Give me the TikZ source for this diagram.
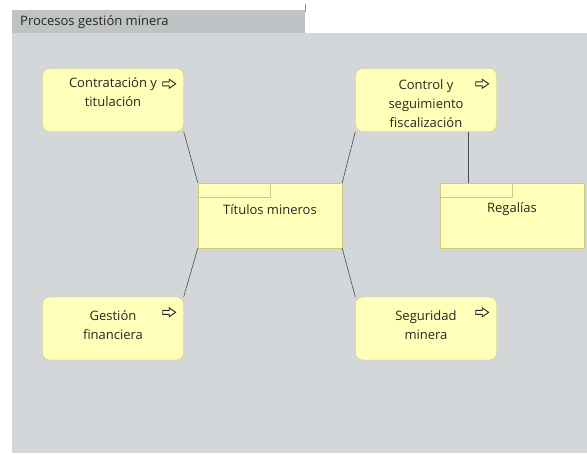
\documentclass[tikz,border=0pt]{standalone}
\usepackage{fontspec}
\setmainfont{Open Sans}
\usetikzlibrary{positioning}
\definecolor{panelgrey}{RGB}{212,215,218}
\definecolor{tabgrey}{RGB}{192,195,198}
\definecolor{boxfill}{RGB}{255,255,185}
\definecolor{boxline}{RGB}{205,200,130}
\definecolor{txt}{RGB}{40,40,30}
\tikzset{
proc/.style={draw=boxline, fill=boxfill, rounded corners=7pt, minimum width=141pt, minimum height=63pt, inner sep=0pt},
func/.style={draw=boxline, fill=boxfill, minimum width=144pt, minimum height=65pt, inner sep=0pt},
lbl/.style={align=center, text=txt, font=\fontsize{13}{19}\selectfont, inner sep=0pt},
link/.style={draw=black!70, line width=0.6pt},
icon/.style={draw=black!85, line width=0.9pt, line join=miter}
}

\begin{document}
\begin{tikzpicture}[x=1pt,y=-1pt]
\useasboundingbox (0,0) rectangle (587,453);
\fill[white] (0,0) rectangle (587,453);
\fill[panelgrey] (12,33) rectangle (587,453);
\fill[tabgrey] (12,10) rectangle (305,33);
\draw[black!45] (305,4) -- (305,12);
\node (panel) at (20,22) [lbl, anchor=west] {Procesos gestión minera};

\node (contratacion) at (113,100) [proc] {};
\node (control) at (426,100) [proc] {};
\node (gestion) at (113,328.5) [proc] {};
\node (seguridad) at (426,328.5) [proc] {};
\node (titulos) at (270,215.5) [func] {};
\node (regalias) at (512,215.5) [func] {};

\draw[boxline] (titulos.north west) rectangle ++(72,14);
\draw[boxline] (regalias.north west) rectangle ++(72,14);

\node (contratacion-t) at ([yshift=-9pt]contratacion.north) [lbl, anchor=north] {Contratación y\\titulación};
\node (control-t) at ([yshift=-11.5pt]control.north) [lbl, anchor=north] {Control y\\seguimiento\\fiscalización};
\node (gestion-t) at ([yshift=-14pt]gestion.north) [lbl, anchor=north] {Gestión\\financiera};
\node (seguridad-t) at ([yshift=-14pt]seguridad.north) [lbl, anchor=north] {Seguridad\\minera};
\node (titulos-t) at ([yshift=6pt]titulos.center) [lbl] {Títulos mineros};
\node (regalias-t) at ([yshift=6pt]regalias.center) [lbl] {Regalías};

\foreach \n in {contratacion,control,gestion,seguridad} {
\draw[icon] ([xshift=-21pt,yshift=-15.5pt]\n.north east) ++(0,-2) -- ++(6.5,0) -- ++(0,-2.5) -- ++(6.5,4.5) -- ++(-6.5,4.5) -- ++(0,-2.5) -- ++(-6.5,0) -- cycle;
}

\draw[link] (contratacion.south east) -- (titulos.north west);
\draw[link] (control.south west) -- (titulos.north east);
\draw[link] (gestion.north east) -- (titulos.south west);
\draw[link] (seguridad.north west) -- (titulos.south east);
\draw[link] ([xshift=42pt]control.south) -- ([xshift=42pt]control.south |- regalias.north);
\end{tikzpicture}
\end{document}
